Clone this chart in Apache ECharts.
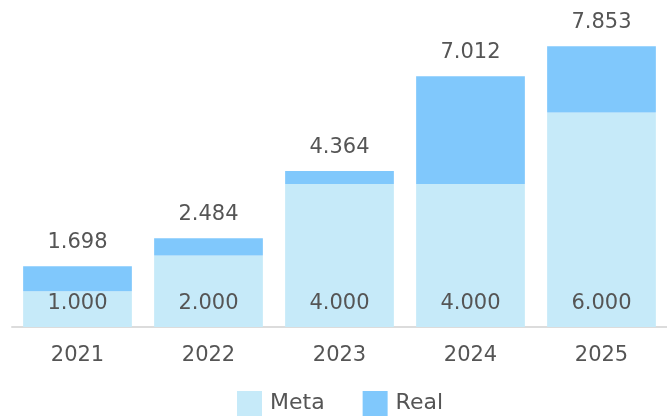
<!DOCTYPE html>
<html><head><meta charset="utf-8">
<script src="https://cdn.jsdelivr.net/npm/echarts@6/dist/echarts.min.js"></script>
<style>html,body{margin:0;padding:0;background:#fff}#c{width:667px;height:417px}</style>
</head><body><div id="c"></div>
<script>
const categories = ['2021','2022','2023','2024','2025'];
const meta = [1000, 2000, 4000, 4000, 6000];
const totals = [1698, 2484, 4364, 7012, 7853];
const real = totals.map((t, i) => t - meta[i]);
const fmt = v => (v / 1000).toFixed(3);
const font = '"DejaVu Sans", sans-serif';
const chart = echarts.init(document.getElementById('c'));
chart.setOption({
  animation: false,
  textStyle: { fontFamily: font },
  grid: { left: 12, right: -2, top: 41, bottom: 90 },
  legend: {
    top: 391, left: 237, itemWidth: 25, itemHeight: 25, itemGap: 38,
    icon: 'rect', padding: 0,
    textStyle: { fontSize: 22, color: '#555', fontFamily: font, padding: [0, 0, 0, 3] }
  },
  xAxis: {
    type: 'category', data: categories,
    axisLine: { lineStyle: { color: '#dcdcdc', width: 2 } },
    axisTick: { show: false },
    axisLabel: { fontSize: 21, color: '#555', margin: 18, fontFamily: font }
  },
  yAxis: { type: 'value', min: 0, max: 8000, show: false, splitLine: { show: false } },
  series: [
    {
      name: 'Meta', type: 'bar', stack: 's', data: meta, barWidth: '83%',
      itemStyle: { color: '#c6eaf9' },
      label: { show: true, position: 'insideBottom', distance: 13, fontSize: 21, color: '#555', fontFamily: font,
        formatter: p => fmt(p.value) }
    },
    {
      name: 'Real', type: 'bar', stack: 's', data: real, barWidth: '83%',
      itemStyle: { color: '#80c8fc' },
      label: { show: true, position: 'top', distance: 13, fontSize: 21, color: '#555', fontFamily: font,
        formatter: p => fmt(totals[p.dataIndex]) }
    }
  ]
});
</script></body></html>
